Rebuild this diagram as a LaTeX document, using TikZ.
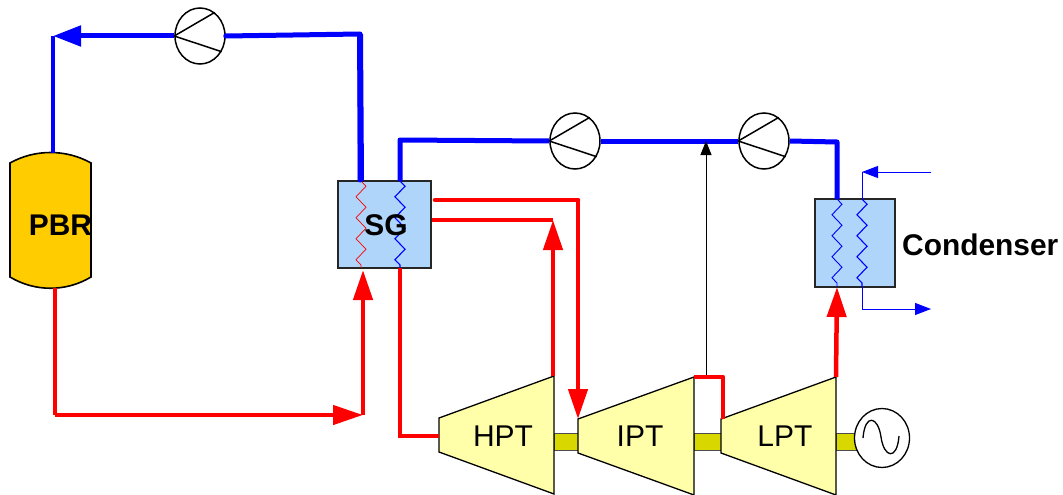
\documentclass[tikz,border=0pt]{standalone}
\usepackage{fontspec}
\setmainfont{Liberation Sans}
\usetikzlibrary{arrows.meta,shapes.geometric,decorations.pathmorphing}
\definecolor{pbrfill}{HTML}{FFCC00}
\definecolor{hxfill}{HTML}{AFD5FB}
\definecolor{tbfill}{HTML}{FFFFAA}
\definecolor{shaftfill}{HTML}{D8D800}
\tikzset{
  lbl/.style={font=\fontsize{30}{36}\selectfont,inner sep=0pt},
  blbl/.style={lbl,font=\fontsize{29.9}{36}\selectfont\bfseries},
  pump/.style={ellipse,draw,fill=white,line width=1.5pt,inner sep=0pt,minimum width=50,minimum height=56},
  hx/.style={rectangle,draw=black!85,fill=hxfill,line width=1.6pt,inner sep=0pt},
  hotline/.style={draw=red,line width=4.5pt},
  coldline/.style={draw=blue,line width=5pt},
  bigred/.style={hotline,-{Triangle[length=30,width=19]}},
  coil/.style={decorate,decoration={zigzag,segment length=21,amplitude=5}},
  turb/.style={draw=black,fill=tbfill,line width=1.3pt},
  shaft/.style={draw=black!70,fill=shaftfill,line width=.8pt}
}
\begin{document}
\begin{tikzpicture}[x=1pt,y=-1pt]
  \useasboundingbox (0,0) rectangle (1063,495);
  % pumps
  \node[pump] (pumpA) at (200,36) {};
  \node[pump] (pumpB) at (575,141) {};
  \node[pump] (pumpC) at (764,141) {};
  \foreach \p in {pumpA,pumpB,pumpC}{\draw[line width=1.5pt] (\p.west) -- (\p.58); \draw[line width=1.5pt] (\p.west) -- (\p.-36);}
  % reactor
  \coordinate (pbrtop) at (53,153);
  \coordinate (pbrbot) at (55,288);
  \fill[pbrfill] (10,163) .. controls (35,149) and (66,149) .. (91,163) -- (91,277) .. controls (66,292) and (35,292) .. (10,277) -- cycle;
  \draw[line width=1.6pt] (10,277) -- (10,163) .. controls (35,149) and (66,149) .. (91,163) -- (91,277) .. controls (66,292) and (35,292) .. cycle;
  % heat exchangers
  \node[hx,minimum width=93,minimum height=87] (SG) at (384.5,224.5) {};
  \node[hx,minimum width=80,minimum height=88] (cond) at (855,243) {};
  \coordinate (sgA) at (361,181); \coordinate (sgAb) at (361,268);
  \coordinate (sgB) at (400,181); \coordinate (sgBb) at (400,268);
  \coordinate (cdA) at (837,199); \coordinate (cdAb) at (837,287);
  \coordinate (cdB) at (862,199); \coordinate (cdBb) at (862,287);
  \draw[red,line width=.7pt,coil] (sgA) -- (sgAb);
  \draw[blue,line width=1.1pt,coil] (sgB) -- (sgBb);
  \draw[blue,line width=.9pt,coil] (cdA) -- (cdAb);
  \draw[blue,line width=1.1pt,coil] (cdB) -- (cdBb);
  \node[blbl] (PBR) at (60.5,225) {PBR};
  \node[blbl] (SGlbl) at (386,225) {SG};
  \node[blbl,anchor=west] (condlbl) at (902,245) {Condenser};
  % turbines and shaft
  \draw[shaft] (554,433) rectangle (578,450);
  \draw[shaft] (694,433) rectangle (721,450);
  \draw[shaft] (836,433) rectangle (860,450);
  \draw[turb] (439,418) coordinate (hptin) -- (554,376) -- (554,494) -- (439,452) -- cycle;
  \draw[turb] (578,419) coordinate (iptin) -- (694,377) coordinate (iptout) -- (694,495) -- (578,453) -- cycle;
  \draw[turb] (721,419) -- (836,377) coordinate (lptout) -- (836,495) -- (721,453) -- cycle;
  \coordinate (hptout) at (553,376);
  \coordinate (lptin) at (723,419);
  \node[lbl] (HPT) at (503,436) {HPT};
  \node[lbl] (IPT) at (640,436) {IPT};
  \node[lbl] (LPT) at (785,436) {LPT};
  \node[ellipse,draw,fill=white,line width=1.3pt,inner sep=0pt,minimum width=55,minimum height=59] (gen) at (882,438) {};
  \draw[line width=1.3pt] (863,438) .. controls (865,413) and (878,416) .. (881,437) .. controls (884,458) and (897,461) .. (899,436);
  % primary loop
  \coordinate (priA) at (53,36);
  \coordinate (priB) at (360,34);
  \coordinate (priC) at (55,415);
  \coordinate (priD) at (363,415);
  \draw[coldline,line width=4.5pt] (pbrtop) -- (priA);
  \draw[coldline,-{Triangle[length=28,width=20]}] (pumpA.west) -- (priA);
  \draw[coldline,line cap=round,line join=round] (pumpA.east) -- (priB) -- (360,180);
  \draw[coldline,line width=6pt] (priB) -- (sgA);
  \draw[hotline] (pbrbot) -- (priC);
  \draw[bigred] (priC) -- (priD);
  \draw[bigred] (priD) -- (363,270);
  % secondary loop
  \coordinate (secA) at (400,140);
  \coordinate (secB) at (837,142);
  \coordinate (tapbl) at (706,141);
  \draw[coldline,line join=round] (sgB) -- (secA) -- (pumpB.west);
  \draw[coldline] (pumpB.east) -- (pumpC.west);
  \draw[coldline,line join=round] (pumpC.east) -- (secB) -- (cdA);
  \draw[-{Triangle[length=14,width=11]},line width=.9pt] (706,377) -- (tapbl);
  \draw[hotline] (sgBb) -- (400,436) -- (hptin |- 0,436);
  \coordinate (rhA) at (553,220);
  \coordinate (rhB) at (578,200);
  \draw[hotline] (SG.east |- rhA) -- (rhA);
  \draw[bigred] (hptout) -- (rhA);
  \draw[hotline,line cap=round] (435,200) -- (rhB);
  \draw[bigred] (rhB) -- (iptin);
  \draw[hotline,line join=round] (iptout) -- (723,377) -- (lptin);
  \draw[bigred] (lptout) -- (cdAb);
  % cooling water
  \coordinate (cwA) at (931,172);
  \coordinate (cwB) at (862,172);
  \coordinate (cwC) at (862,309);
  \coordinate (cwD) at (931,309);
  \draw[blue,line width=1pt] (cwB) -- (cdB);
  \draw[blue,line width=1pt,-{Triangle[length=16,width=12]}] (cwA) -- (cwB);
  \draw[blue,line width=1pt] (cdBb) -- (cwC);
  \draw[blue,line width=1pt,-{Triangle[length=16,width=12]}] (cwC) -- (cwD);
\end{tikzpicture}
\end{document}
